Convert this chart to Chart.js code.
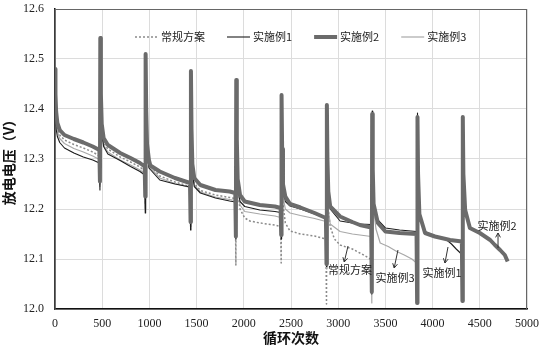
<!DOCTYPE html>
<html>
<head>
<meta charset="utf-8">
<script src="https://cdn.jsdelivr.net/npm/chart.js@4.4.0/dist/chart.umd.min.js"></script>
<style>
  body { margin: 0; background: #fff; }
</style>
</head>
<body>
<canvas id="grafico" width="541" height="348"></canvas>
<script>
// 常规方案 (dotted)
var ciclosPadrao = [0, 5, 12, 25, 50, 100, 200, 300, 400, 470,
    476, 480, 486, 495, 515, 560, 690, 800, 900, 950,
    956, 960, 966, 975, 995, 1110, 1270, 1430,
    1436, 1440, 1446, 1455, 1475, 1540, 1700, 1850, 1910,
    1916, 1920, 1926, 1935, 1960, 2010, 2065, 2170, 2330, 2390,
    2396, 2400, 2406, 2415, 2440, 2490, 2600, 2750, 2870,
    2876, 2880, 2886, 2895, 2915, 2960, 3020, 3150, 3250, 3340];
var tensaoPadrao = [12.46, 12.42, 12.39, 12.362, 12.348, 12.338, 12.329, 12.322, 12.314, 12.306,
    12.25, 12.54, 12.428, 12.362, 12.332, 12.32, 12.304, 12.294, 12.284, 12.276,
    12.21, 12.508, 12.398, 12.322, 12.289, 12.266, 12.254, 12.245,
    12.17, 12.474, 12.357, 12.28, 12.251, 12.237, 12.228, 12.223, 12.221,
    12.088, 12.455, 12.32, 12.235, 12.2, 12.182, 12.176, 12.172, 12.168, 12.165,
    12.092, 12.425, 12.29, 12.21, 12.172, 12.156, 12.15, 12.146, 12.14,
    12.01, 12.405, 12.27, 12.2, 12.165, 12.14, 12.128, 12.12, 12.11, 12.1];

// 实施例1 (thin black)
var ciclos1 = [0, 5, 12, 25, 50, 100, 200, 300, 400, 470,
    476, 480, 486, 495, 515, 560, 690, 800, 900, 950,
    956, 960, 966, 975, 995, 1110, 1270, 1430,
    1436, 1440, 1446, 1455, 1475, 1540, 1700, 1850, 1910,
    1916, 1920, 1926, 1935, 1960, 2010, 2170, 2330, 2390,
    2396, 2400, 2406, 2415, 2440, 2490, 2600, 2750, 2870,
    2876, 2880, 2886, 2895, 2915, 3020, 3150, 3230, 3350,
    3356, 3360, 3366, 3375, 3420, 3500, 3650, 3830,
    3836, 3840, 3846, 3860, 3920, 4025, 4150, 4200, 4250, 4305];
var tensao1 = [12.40, 12.38, 12.36, 12.345, 12.333, 12.322, 12.312, 12.304, 12.298, 12.292,
    12.238, 12.535, 12.42, 12.355, 12.325, 12.31, 12.297, 12.285, 12.275, 12.268,
    12.192, 12.505, 12.39, 12.315, 12.282, 12.258, 12.25, 12.244,
    12.158, 12.47, 12.35, 12.275, 12.245, 12.232, 12.222, 12.216, 12.214,
    12.14, 12.455, 12.33, 12.245, 12.215, 12.205, 12.198, 12.195, 12.193,
    12.14, 12.425, 12.31, 12.24, 12.215, 12.206, 12.2, 12.19, 12.182,
    12.085, 12.405, 12.29, 12.225, 12.2, 12.176, 12.172, 12.17, 12.169,
    12.03, 12.396, 12.28, 12.21, 12.178, 12.162, 12.158, 12.155,
    12.02, 12.392, 12.27, 12.19, 12.155, 12.146, 12.138, 12.13, 12.12, 12.11];

// 实施例2 (thick)
var ciclos2 = [0, 5, 12, 25, 50, 100, 200, 300, 400, 470,
    476, 480, 486, 495, 515, 560, 690, 800, 900, 950,
    956, 960, 966, 975, 995, 1010, 1110, 1270, 1430,
    1436, 1440, 1446, 1455, 1475, 1540, 1700, 1850, 1910,
    1916, 1920, 1926, 1935, 1960, 2010, 2170, 2330, 2390,
    2396, 2400, 2406, 2415, 2440, 2490, 2600, 2750, 2870,
    2876, 2880, 2886, 2895, 2915, 3020, 3150, 3230, 3350,
    3356, 3360, 3366, 3375, 3420, 3500, 3650, 3830,
    3836, 3840, 3846, 3860, 3920, 4025, 4185, 4310,
    4316, 4320, 4326, 4345, 4395, 4500, 4610, 4660, 4715, 4765, 4795];
var tensao2 = [12.48, 12.43, 12.395, 12.372, 12.358, 12.348, 12.34, 12.333, 12.325, 12.318,
    12.255, 12.542, 12.43, 12.37, 12.342, 12.328, 12.312, 12.302, 12.292, 12.285,
    12.225, 12.51, 12.40, 12.33, 12.298, 12.287, 12.275, 12.262, 12.252,
    12.174, 12.476, 12.36, 12.29, 12.262, 12.248, 12.238, 12.235, 12.232,
    12.145, 12.458, 12.34, 12.26, 12.228, 12.215, 12.208, 12.205, 12.202,
    12.148, 12.428, 12.32, 12.25, 12.225, 12.21, 12.203, 12.192, 12.182,
    12.09, 12.408, 12.30, 12.235, 12.205, 12.185, 12.174, 12.168, 12.163,
    12.034, 12.39, 12.28, 12.21, 12.172, 12.155, 12.152, 12.15,
    12.012, 12.384, 12.27, 12.19, 12.152, 12.145, 12.138, 12.135,
    12.016, 12.384, 12.27, 12.198, 12.162, 12.152, 12.138, 12.128, 12.118, 12.108, 12.095];

// 实施例3 (thin light gray)
var ciclos3 = [0, 5, 12, 25, 50, 100, 200, 300, 400, 470,
    476, 480, 486, 495, 515, 560, 690, 800, 900, 950,
    956, 960, 966, 975, 995, 1110, 1270, 1430,
    1436, 1440, 1446, 1455, 1475, 1540, 1700, 1850, 1910,
    1916, 1920, 1926, 1935, 1960, 2010, 2170, 2330, 2390,
    2396, 2400, 2406, 2415, 2440, 2490, 2600, 2750, 2870,
    2876, 2880, 2886, 2895, 2915, 3020, 3150, 3230, 3350,
    3356, 3360, 3366, 3375, 3400, 3445, 3530, 3620, 3700, 3780, 3830];
var tensao3 = [12.45, 12.41, 12.38, 12.355, 12.341, 12.331, 12.321, 12.314, 12.306, 12.299,
    12.245, 12.538, 12.425, 12.358, 12.328, 12.314, 12.298, 12.288, 12.278, 12.271,
    12.2, 12.508, 12.395, 12.318, 12.285, 12.262, 12.251, 12.243,
    12.165, 12.472, 12.355, 12.276, 12.248, 12.234, 12.224, 12.219, 12.217,
    12.14, 12.455, 12.33, 12.24, 12.208, 12.195, 12.19, 12.186, 12.183,
    12.14, 12.425, 12.30, 12.225, 12.2, 12.192, 12.187, 12.181, 12.175,
    12.08, 12.405, 12.28, 12.2, 12.17, 12.155, 12.15, 12.148, 12.145,
    12.012, 12.39, 12.27, 12.2, 12.16, 12.132, 12.125, 12.115, 12.108, 12.1, 12.092];

var nomes = ['常规方案', '实施例1', '实施例2', '实施例3'];
var ticksX = [0, 500, 1000, 1500, 2000, 2500, 3000, 3500, 4000, 4500, 5000];
var ticksY = [12.0, 12.1, 12.2, 12.3, 12.4, 12.5, 12.6];

// labels with arrows, in data units
var notas = [
    { texto: '常规方案', tx: 3125, ty: 12.078, de: [3104, 12.126], para: [3064, 12.094] },
    { texto: '实施例3', tx: 3602, ty: 12.062, de: [3633, 12.118], para: [3593, 12.082] },
    { texto: '实施例1', tx: 4100, ty: 12.072, de: [4163, 12.124], para: [4131, 12.092] },
    { texto: '实施例2', tx: 4682, ty: 12.166, de: [4693, 12.122], para: [4693, 12.152] }
];

function pontos(xs, ys) {
    return xs.map(function (x, i) { return { x: x, y: ys[i] }; });
}

const moldura = {
    id: 'moldura',
    afterDatasetsDraw(chart) {
        const ctx = chart.ctx;
        const a = chart.chartArea;
        const sx = chart.scales.x, sy = chart.scales.y;
        ctx.save();
        ctx.strokeStyle = '#666';
        ctx.lineWidth = 1;
        ctx.strokeRect(a.left, a.top + 0.5, a.right - a.left - 0.5, a.bottom - a.top);

        // legenda dentro da área
        ctx.font = '11px "Noto Sans CJK SC"';
        ctx.textBaseline = 'middle';
        ctx.fillStyle = '#222';
        let x = a.left + 80;
        const yl = a.top + 28;
        chart.data.datasets.forEach(function (ds) {
            ctx.save();
            ctx.strokeStyle = ds.borderColor;
            ctx.lineWidth = ds.borderWidth;
            ctx.setLineDash(ds.borderDash || []);
            ctx.beginPath();
            ctx.moveTo(x, yl);
            ctx.lineTo(x + 23, yl);
            ctx.stroke();
            ctx.restore();
            ctx.fillText(ds.label, x + 26, yl);
            x += 26 + ctx.measureText(ds.label).width + 22;
        });

        // anotações
        ctx.strokeStyle = '#333';
        ctx.lineWidth = 1;
        ctx.textAlign = 'center';
        notas.forEach(function (n) {
            const x0 = sx.getPixelForValue(n.de[0]), y0 = sy.getPixelForValue(n.de[1]);
            const x1 = sx.getPixelForValue(n.para[0]), y1 = sy.getPixelForValue(n.para[1]);
            const ang = Math.atan2(y1 - y0, x1 - x0);
            ctx.beginPath();
            ctx.moveTo(x0, y0);
            ctx.lineTo(x1, y1);
            ctx.moveTo(x1 - 5 * Math.cos(ang - 0.5), y1 - 5 * Math.sin(ang - 0.5));
            ctx.lineTo(x1, y1);
            ctx.lineTo(x1 - 5 * Math.cos(ang + 0.5), y1 - 5 * Math.sin(ang + 0.5));
            ctx.stroke();
            ctx.fillText(n.texto, sx.getPixelForValue(n.tx), sy.getPixelForValue(n.ty));
        });
        ctx.restore();
    }
};

// order: thick on top, dotted at the bottom
const dados = {
    datasets: [{
        label: nomes[0],
        data: pontos(ciclosPadrao, tensaoPadrao),
        borderColor: '#8a8a8a',
        borderWidth: 1.5,
        borderDash: [2, 2],
        order: 3
    }, {
        label: nomes[1],
        data: pontos(ciclos1, tensao1),
        borderColor: '#1c1c1c',
        borderWidth: 1.1,
        order: 1
    }, {
        label: nomes[2],
        data: pontos(ciclos2, tensao2),
        borderColor: '#6b6b6b',
        borderWidth: 4,
        order: 0
    }, {
        label: nomes[3],
        data: pontos(ciclos3, tensao3),
        borderColor: '#a8a8a8',
        borderWidth: 1.2,
        order: 2
    }]
};

const config = {
    type: 'line',
    data: dados,
    options: {
        responsive: false,
        animation: false,
        layout: { padding: { top: 9, right: 14, left: 0, bottom: 0 } },
        elements: { point: { radius: 0 }, line: { tension: 0, borderJoinStyle: 'round' } },
        plugins: { legend: { display: false }, tooltip: { enabled: false } },
        scales: {
            x: {
                type: 'linear',
                min: 0,
                max: 5000,
                afterBuildTicks: function (s) { s.ticks = ticksX.map(function (v) { return { value: v }; }); },
                afterFit: function (s) { s.height = 39; s.paddingLeft = 0; s.paddingRight = 0; },
                grid: { color: '#dcdcdc', drawTicks: false },
                border: { color: '#111', width: 1.5 },
                ticks: { padding: 8, color: '#222', font: { family: '"Liberation Serif"', size: 12 }, maxRotation: 0,
                    callback: function (v) { return String(v); } },
                title: { display: true, text: '循环次数', color: '#111', padding: { top: 0, bottom: 2 },
                    font: { family: '"Noto Sans CJK SC"', size: 14, weight: 'bold' } }
            },
            y: {
                min: 12.0,
                max: 12.6,
                afterBuildTicks: function (s) { s.ticks = ticksY.map(function (v) { return { value: v }; }); },
                afterFit: function (s) { s.width = 55; s.paddingTop = 0; s.paddingBottom = 0; },
                grid: { color: '#dcdcdc', drawTicks: false },
                border: { color: '#111', width: 1.5 },
                ticks: { padding: 11, color: '#222', font: { family: '"Liberation Serif"', size: 12 },
                    callback: function (v) { return v.toFixed(1); } },
                title: { display: true, text: '放电电压（V）', color: '#111', padding: { top: 0, bottom: 0 },
                    font: { family: '"Noto Sans CJK SC"', size: 14, weight: 'bold' } }
            }
        }
    },
    plugins: [moldura]
};

new Chart(document.getElementById('grafico'), config);
</script>
</body>
</html>
